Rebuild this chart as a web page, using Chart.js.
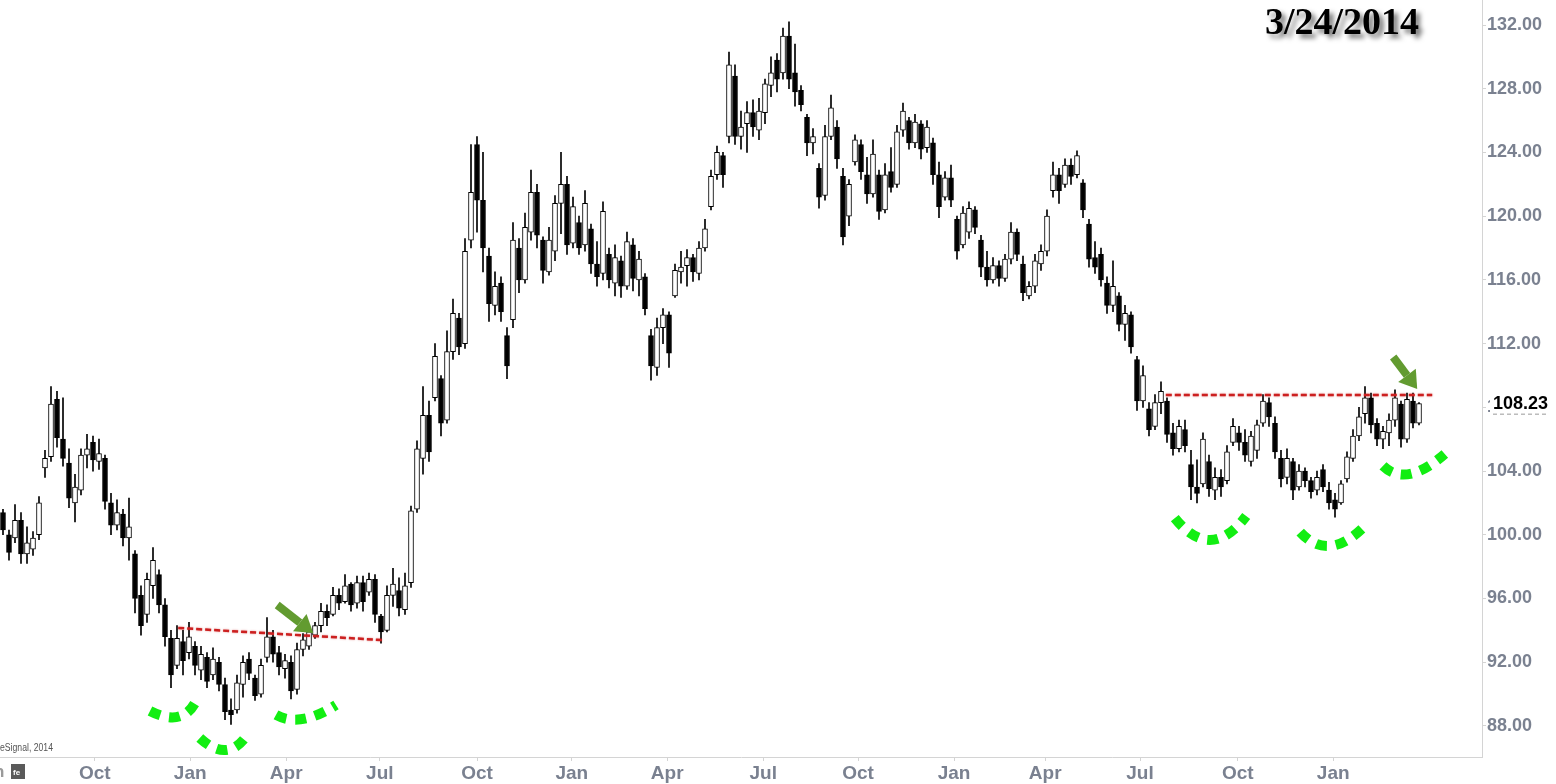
<!DOCTYPE html>
<html>
<head>
<meta charset="utf-8">
<script src="https://cdn.jsdelivr.net/npm/chart.js@4.4.1/dist/chart.umd.min.js"></script>
<style>
  html, body { margin: 0; padding: 0; background: #fff; }
  canvas { display: block; }
</style>
</head>
<body>
<canvas id="chart" width="1556" height="784"></canvas>
<script>
// candle values, one candle per slot (left to right)
const highs = [101.6,100.3,101.9,101.4,100.5,100.2,102.4,105.3,109.3,109.0,108.6,105.4,103.8,105.4,106.3,106.2,106.0,105.0,102.6,102.2,
  101.6,102.3,99.0,96.8,97.6,99.2,97.8,96.0,94.0,94.3,94.0,94.5,93.3,93.0,92.6,92.9,92.3,91.0,89.7,91.2,
  92.4,92.6,91.2,92.2,94.8,94.0,93.0,92.5,92.4,93.2,93.8,94.2,94.5,95.7,95.6,96.7,96.6,97.5,97.0,97.4,
  97.4,97.6,97.5,95.0,96.8,97.9,97.3,97.6,101.8,105.9,109.3,108.4,112.0,110.0,112.8,114.8,113.9,118.6,124.5,125.0,
  124.0,118.0,116.5,116.2,113.0,119.6,118.6,120.2,122.9,122.0,118.7,119.3,121.3,124.0,122.5,121.2,120.0,121.6,119.5,118.4,
  120.9,118.0,118.2,117.5,119.0,118.6,117.8,116.4,112.9,113.6,114.2,114.0,117.0,117.8,117.9,117.6,118.4,119.8,122.9,124.4,
  124.0,130.3,129.5,126.6,127.2,127.3,127.4,128.6,130.0,130.2,131.8,132.2,130.8,128.2,126.4,125.5,123.3,125.7,127.6,126.0,
  123.0,122.3,125.1,124.8,123.7,124.8,122.9,123.3,124.3,125.7,127.1,126.2,126.4,126.0,126.0,124.9,123.4,122.8,123.2,120.0,
  120.6,120.9,120.6,118.8,117.8,117.4,117.2,117.6,119.6,119.2,117.5,115.9,117.6,118.2,120.4,123.4,123.0,123.6,123.6,124.1,
  122.3,119.8,118.4,118.0,116.2,117.2,115.2,114.4,114.0,111.2,110.6,108.3,108.8,109.6,108.6,107.0,107.2,107.2,105.3,104.7,
  106.4,105.0,104.2,104.1,105.6,107.3,106.8,106.6,106.5,107.2,108.8,108.6,107.4,105.3,105.4,104.8,104.4,104.2,103.6,104.0,
  104.4,103.3,102.6,103.4,105.2,106.6,108.0,109.3,108.9,107.3,106.8,107.6,109.1,108.4,108.9,108.9,108.3];
const lows = [100.0,98.4,99.5,98.2,98.2,98.7,99.7,103.6,104.6,105.5,104.3,101.7,100.8,102.5,104.2,104.0,104.1,101.6,100.0,100.3,
  99.3,98.4,95.1,93.7,94.5,96.0,95.1,93.0,90.4,91.6,91.2,92.2,91.2,90.9,90.4,90.9,90.2,88.4,88.1,88.8,
  89.8,90.9,89.6,89.8,92.0,92.0,91.2,91.0,89.7,90.0,92.4,92.8,93.5,93.9,94.3,94.9,95.3,95.7,95.2,95.4,
  95.2,96.2,94.5,93.2,93.9,95.5,94.9,95.0,96.7,101.4,103.8,104.6,108.4,106.2,107.0,111.0,111.3,111.7,118.0,119.0,
  116.5,113.4,113.8,113.4,109.8,113.0,115.2,115.8,118.5,118.0,115.8,116.3,117.2,118.9,117.6,118.0,117.6,117.8,116.4,115.6,
  116.0,115.5,115.0,114.9,115.4,115.3,115.0,113.8,109.7,110.0,112.0,110.5,114.9,115.8,115.6,115.9,116.0,117.8,120.4,122.3,
  121.8,124.6,124.5,124.2,124.0,125.0,124.8,125.8,127.5,127.8,128.6,128.0,126.9,126.6,123.8,123.9,120.5,121.0,124.8,123.0,
  118.2,119.4,123.2,122.3,120.8,121.2,119.8,120.2,121.5,121.8,125.0,124.2,124.3,123.6,124.0,122.0,119.9,121.0,120.6,117.3,
  118.0,118.6,118.9,116.2,115.6,115.8,115.6,115.9,117.0,117.2,114.7,114.8,115.2,116.6,117.5,121.2,120.8,121.8,122.0,122.4,
  119.9,116.8,116.4,115.6,113.9,114.0,112.8,112.2,111.4,107.8,108.0,106.2,106.6,107.6,105.8,105.0,105.2,105.2,102.2,102.0,
  103.0,102.4,102.2,102.4,103.2,105.6,105.3,104.6,104.3,104.8,106.8,106.8,104.8,103.0,103.2,102.2,102.8,103.0,102.3,102.5,
  102.7,101.6,101.1,101.9,103.3,104.6,105.9,107.0,106.4,105.6,105.4,105.6,106.8,105.5,105.8,106.7,106.9];
const opens = [101.4,100.0,99.8,100.9,98.8,99.1,100.0,104.2,104.9,108.5,106.0,104.5,102.0,102.8,105.0,105.8,104.6,104.8,102.0,100.6,
  101.3,99.8,98.8,96.2,95.0,96.8,97.5,95.6,93.5,91.8,93.3,92.6,93.0,91.5,92.3,91.2,92.0,90.6,89.0,89.0,
  90.6,92.2,91.0,90.0,92.3,93.6,92.6,91.6,92.0,90.3,92.8,93.0,93.7,94.3,95.2,95.0,96.2,95.8,96.9,95.7,
  97.0,96.4,97.2,94.9,94.0,96.2,96.5,95.3,97.0,101.6,104.8,107.5,108.6,109.8,107.2,111.5,113.6,112.0,118.5,124.5,
  121.0,117.5,114.4,115.8,112.5,113.5,118.0,116.0,119.0,121.5,118.5,116.5,117.8,120.8,122.0,118.3,119.6,118.2,119.2,117.0,
  116.4,117.6,115.8,117.2,115.6,118.2,116.0,116.2,112.5,110.5,113.0,113.8,115.0,116.5,116.9,117.4,116.4,118.0,120.6,122.6,
  123.8,125.0,128.8,125.0,125.8,126.5,125.4,126.5,128.2,129.8,129.0,131.3,129.0,127.9,126.2,124.6,123.0,121.3,125.0,125.6,
  122.5,120.0,123.4,124.5,122.6,121.4,122.6,120.4,122.8,122.0,125.4,126.0,124.6,125.8,124.3,124.6,122.6,121.2,122.4,119.8,
  118.2,119.0,120.4,118.5,116.8,116.0,116.9,116.1,117.3,119.0,117.0,115.0,115.6,117.0,117.8,121.6,122.6,122.0,123.2,122.6,
  122.1,119.5,117.4,117.6,115.8,114.4,115.0,113.2,113.8,111.0,108.4,107.9,106.8,108.3,108.4,106.4,105.4,106.6,104.4,103.0,
  103.2,104.6,102.8,103.6,103.4,105.8,106.4,105.8,104.6,105.3,107.0,108.3,107.0,104.8,103.6,104.6,103.0,104.0,103.4,102.8,
  104.1,102.8,102.2,102.0,103.5,104.8,106.2,107.6,108.6,107.0,106.0,106.4,107.2,108.2,106.0,108.4,107.0];
const closes = [100.3,98.9,100.9,98.8,99.5,99.8,102.0,104.8,108.2,106.1,104.8,102.3,103.0,105.0,105.4,104.7,105.1,102.1,100.6,101.4,
  99.8,100.5,96.0,94.3,97.2,98.4,95.6,93.6,91.2,93.5,92.1,93.6,91.8,92.5,90.8,92.2,90.6,88.9,88.7,90.7,
  92.0,91.3,89.9,91.8,93.6,92.5,91.7,92.1,90.2,92.8,93.4,93.9,94.3,95.2,94.8,96.2,95.7,96.8,95.6,97.0,
  95.8,97.2,95.0,93.9,96.2,96.9,95.4,96.8,101.5,105.4,107.5,105.2,111.2,107.0,111.5,113.9,111.8,117.8,121.5,121.0,
  118.0,114.5,115.6,114.0,110.6,118.5,116.0,119.3,121.5,118.8,116.6,118.5,120.8,122.0,118.2,120.6,118.0,120.8,117.0,116.2,
  120.3,116.0,117.4,115.6,118.4,116.1,117.3,114.2,110.6,113.0,113.8,111.4,116.6,116.8,117.4,116.5,118.0,119.2,122.5,124.0,
  122.6,129.5,125.0,125.6,126.5,125.6,126.6,128.3,129.0,128.6,131.3,128.6,127.8,127.0,124.6,125.0,121.2,125.0,126.8,123.6,
  118.7,122.0,124.8,122.8,121.4,123.9,120.3,122.6,121.8,125.3,126.6,124.6,125.9,124.2,125.6,122.6,120.6,122.4,121.0,117.8,
  120.2,120.5,119.3,116.8,116.0,116.9,116.1,117.3,119.0,117.6,115.2,115.6,117.2,117.8,120.0,122.6,121.6,123.2,122.5,123.8,
  120.4,117.3,116.8,116.0,114.4,115.6,113.2,113.9,111.8,108.4,110.0,106.6,108.3,109.0,106.3,105.4,106.8,105.6,103.0,102.6,
  106.0,102.9,103.6,103.0,105.2,106.8,105.8,105.0,106.2,106.9,108.4,107.4,105.2,103.5,104.8,102.8,104.0,103.4,102.7,103.6,
  103.0,102.0,101.6,103.2,104.9,106.2,107.4,108.6,106.9,106.0,106.5,107.2,108.6,106.0,108.5,107.0,108.23];

// x axis: month labels and the slot they sit on
const monthLabels = ['Oct','Jan','Apr','Jul','Oct','Jan','Apr','Jul','Oct','Jan','Apr','Jul','Oct','Jan'];
const monthSlots = [15.3,31.2,47.2,62.8,79.0,94.8,110.7,126.7,142.5,158.5,173.7,189.5,205.8,221.7];
// y axis ticks
const priceTicks = [88,92,96,100,104,108,112,116,120,124,128,132];
const lastPrice = 108.23;

// annotations (slot, price)
const resistanceLines = [
  [[29.2, 94.15], [63.3, 93.39]],
  [[193.8, 108.77], [238.2, 108.77]]
];
const breakoutArrows = [
  [[45.7, 95.59], [51.7, 93.83]],
  [[231.7, 111.16], [235.7, 109.15]]
];
const bottomArcs = [
  [[24.5, 88.94], [29.75, 87.93], [32.0, 89.44]],
  [[32.8, 87.24], [37.5, 85.61], [40.8, 87.49]],
  [[45.5, 88.69], [49.5, 87.87], [55.5, 89.31]],
  [[195.3, 101.05], [201.3, 98.23], [207.2, 101.18]],
  [[216.2, 100.17], [220.8, 98.26], [226.8, 100.49]],
  [[230.0, 104.32], [233.8, 102.94], [240.3, 105.07]]
];

const slots = highs.map((_, i) => i);
const wickData = slots.map(i => ({ x: i, y: [lows[i], highs[i]] }));
const bodyData = slots.map(i => ({ x: i, y: [opens[i], closes[i]] }));
const bodyColors = slots.map(i => closes[i] >= opens[i] ? '#ffffff' : '#000000');

const axisGrey = '#7a8190';

const overlay = {
  id: 'overlay',
  afterDraw(chart) {
    const { ctx, scales: { x, y } } = chart;
    const px = p => [x.getPixelForValue(p[0]), y.getPixelForValue(p[1])];

    // red dashed resistance lines
    ctx.save();
    ctx.strokeStyle = '#cc2020';
    ctx.lineWidth = 2.5;
    ctx.setLineDash([6, 3]);
    ctx.shadowColor = 'rgba(200,30,30,0.5)';
    ctx.shadowBlur = 2;
    resistanceLines.forEach(l => {
      const a = px(l[0]), b = px(l[1]);
      ctx.beginPath(); ctx.moveTo(a[0], a[1]); ctx.lineTo(b[0], b[1]); ctx.stroke();
    });
    ctx.restore();

    // green dashed arcs
    ctx.save();
    ctx.strokeStyle = '#12ee12';
    ctx.lineWidth = 10;
    ctx.setLineDash([11, 9]);
    bottomArcs.forEach(a => {
      const p0 = px(a[0]), c = px(a[1]), p1 = px(a[2]);
      ctx.beginPath(); ctx.moveTo(p0[0], p0[1]); ctx.quadraticCurveTo(c[0], c[1], p1[0], p1[1]); ctx.stroke();
    });
    ctx.restore();

    // arrows
    ctx.save();
    ctx.fillStyle = '#629b30';
    ctx.strokeStyle = '#629b30';
    breakoutArrows.forEach(ar => {
      const t = px(ar[0]), h = px(ar[1]);
      const ang = Math.atan2(h[1] - t[1], h[0] - t[0]);
      const headLen = 17, headW = 11;
      const bx = h[0] - Math.cos(ang) * headLen, by = h[1] - Math.sin(ang) * headLen;
      ctx.lineWidth = 8;
      ctx.beginPath(); ctx.moveTo(t[0], t[1]); ctx.lineTo(bx, by); ctx.stroke();
      ctx.beginPath();
      ctx.moveTo(h[0], h[1]);
      ctx.lineTo(bx + Math.sin(ang) * headW, by - Math.cos(ang) * headW);
      ctx.lineTo(bx - Math.sin(ang) * headW, by + Math.cos(ang) * headW);
      ctx.closePath(); ctx.fill();
    });
    ctx.restore();

    // last price label
    const ly = y.getPixelForValue(lastPrice);
    ctx.save();
    ctx.fillStyle = '#ffffff';
    ctx.fillRect(x.right + 8, ly - 12, 74, 24);
    ctx.fillStyle = '#000';
    ctx.font = 'bold 18px "Liberation Sans", Arial, sans-serif';
    ctx.textBaseline = 'middle';
    ctx.fillText(lastPrice.toFixed(2), x.right + 11, ly);
    ctx.strokeStyle = '#9a9a9a';
    ctx.lineWidth = 1;
    ctx.setLineDash([4, 3]);
    ctx.beginPath(); ctx.moveTo(x.right + 11, ly + 10.5); ctx.lineTo(x.right + 65, ly + 10.5); ctx.stroke();
    ctx.restore();

    // date title
    ctx.save();
    ctx.font = 'bold 38px "Liberation Serif", "Times New Roman", serif';
    ctx.fillStyle = '#000';
    ctx.textBaseline = 'alphabetic';
    ctx.shadowColor = 'rgba(0,0,0,0.55)';
    ctx.shadowOffsetX = 4;
    ctx.shadowOffsetY = 4;
    ctx.shadowBlur = 5;
    ctx.fillText('3/24/2014', 1265, 34);
    ctx.restore();

    // source note and icon
    ctx.save();
    ctx.fillStyle = '#555';
    ctx.font = '10px "Liberation Sans", Arial, sans-serif';
    ctx.textBaseline = 'middle';
    ctx.fillText('eSignal, 2014', 0, 748, 53);
    ctx.fillStyle = '#9a9a9a';
    ctx.font = 'bold 17px "Liberation Sans", Arial, sans-serif';
    ctx.fillText('n', -6, 772);
    ctx.fillStyle = '#5a5a5a';
    ctx.fillRect(11, 764, 14, 15);
    ctx.fillStyle = '#fff';
    ctx.font = 'bold 8px "Liberation Sans", Arial, sans-serif';
    ctx.fillText('fe', 13, 773);
    ctx.restore();
  }
};

new Chart(document.getElementById('chart'), {
  type: 'bar',
  data: {
    datasets: [
      {
        label: 'body',
        data: bodyData,
        backgroundColor: bodyColors,
        borderColor: '#000',
        borderWidth: 1,
        borderSkipped: false,
        barThickness: 5,
        minBarLength: 1,
        grouped: false,
        order: 1
      },
      {
        label: 'wick',
        data: wickData,
        backgroundColor: '#000',
        borderWidth: 0,
        barThickness: 1,
        grouped: false,
        order: 2
      }
    ]
  },
  options: {
    responsive: false,
    animation: false,
    layout: { padding: 0 },
    plugins: { legend: { display: false }, tooltip: { enabled: false } },
    scales: {
      x: {
        type: 'linear',
        offset: false,
        min: -0.5,
        max: 246.5,
        grid: { offset: false, drawOnChartArea: false, drawTicks: true, tickLength: 4, color: '#d4d4d4' },
        border: { color: '#d4d4d4' },
        afterBuildTicks: s => { s.ticks = monthSlots.map(v => ({ value: v })); },
        afterFit: s => { s.height = 27; s.paddingLeft = 0; s.paddingRight = 0; },
        ticks: {
          autoSkip: false,
          maxRotation: 0,
          padding: 1,
          color: axisGrey,
          font: { family: '"Liberation Sans", Arial, sans-serif', size: 19, weight: 'bold' },
          callback: (v, i) => monthLabels[i]
        }
      },
      y: {
        position: 'right',
        min: 86.05,
        max: 133.57,
        grid: { drawOnChartArea: false, drawTicks: true, tickLength: 4, color: '#d4d4d4' },
        border: { color: '#d4d4d4' },
        afterBuildTicks: s => { s.ticks = priceTicks.map(v => ({ value: v })); },
        afterFit: s => { s.width = 74; s.paddingTop = 0; s.paddingBottom = 0; },
        ticks: {
          padding: 1,
          color: axisGrey,
          font: { family: '"Liberation Sans", Arial, sans-serif', size: 18, weight: 'bold' },
          callback: v => Number(v).toFixed(2)
        }
      }
    }
  },
  plugins: [overlay]
});
</script>
</body>
</html>
